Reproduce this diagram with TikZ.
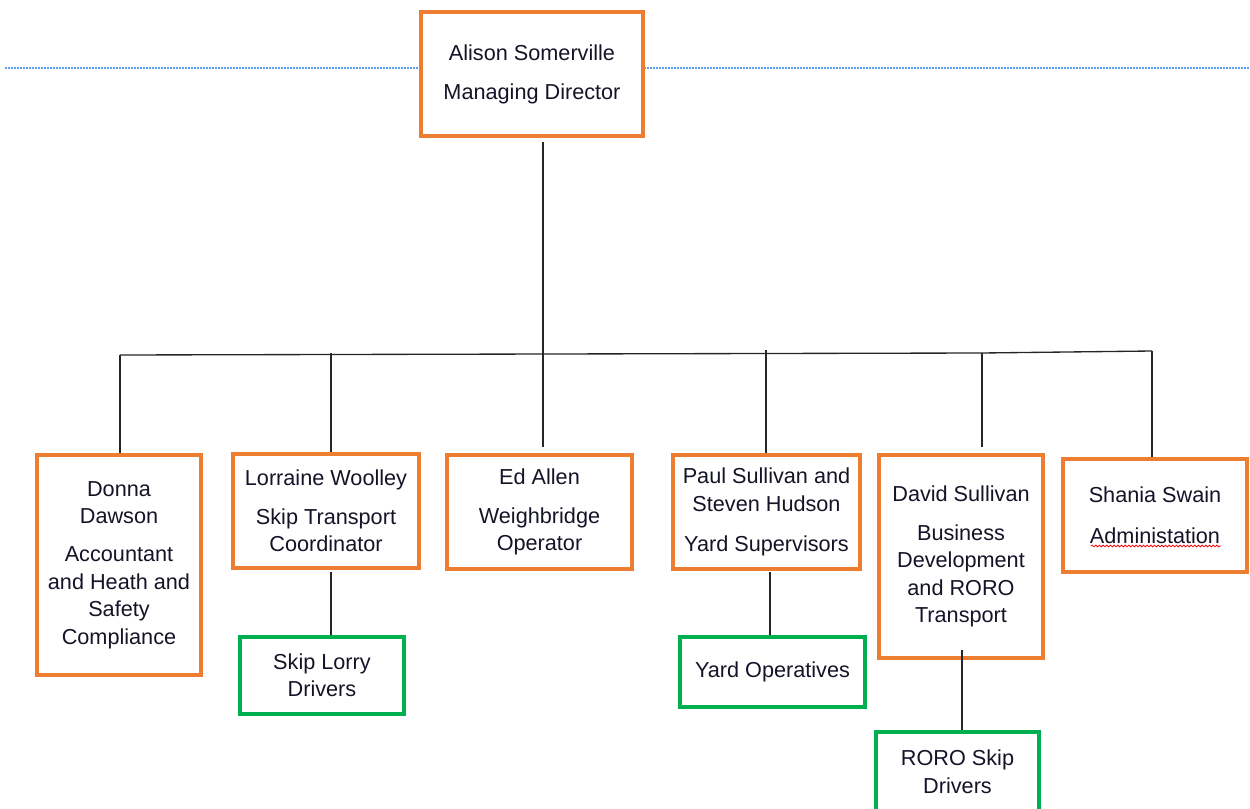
\documentclass[tikz,border=0pt]{standalone}
\usepackage{fontspec}
\setmainfont{Liberation Sans}
\usetikzlibrary{decorations.pathmorphing,calc}
\definecolor{boxorange}{RGB}{237,125,49}
\definecolor{boxgreen}{RGB}{0,176,80}
\definecolor{guideblue}{RGB}{90,160,240}
\definecolor{textdark}{RGB}{20,20,40}
\begin{document}
\begin{tikzpicture}[x=0.6pt,y=-0.6pt,
  boxbase/.style={rectangle, fill=white, align=center, inner sep=0pt,
    text=textdark, font=\fontsize{13}{16.5}\selectfont},
  obox/.style={boxbase, draw=boxorange, line width=2.4pt},
  gbox/.style={boxbase, draw=boxgreen, line width=2.1pt},
  conn/.style={draw=black!85, line width=0.8pt},
  guide/.style={draw=guideblue, line width=0.7pt, dash pattern=on 1.2pt off 0.6pt}
]
\useasboundingbox (0,0) rectangle (1250,809);

% guide line
\coordinate (gl) at (5,68);
\coordinate (gr) at (1250,68);
\draw[guide] (gl) -- (gr);

% boxes
\node[obox, minimum width=133.2pt, minimum height=74.4pt] (top) at (532,74)
  {Alison Somerville\\[6.9pt]Managing Director};
\node[obox, minimum width=98.4pt, minimum height=132pt] (donna) at (119,565)
  {Donna\\Dawson\\[6.3pt]Accountant\\and Heath and\\Safety\\Compliance};
\node[obox, minimum width=111.6pt, minimum height=68.4pt] (lorraine) at (326,510.8)
  {Lorraine Woolley\\[6.9pt]Skip Transport\\Coordinator};
\node[obox, minimum width=111pt, minimum height=68.4pt] (ed) at (539.5,512)
  {Ed Allen\\[6.9pt]Weighbridge\\Operator};
\node[obox, minimum width=112.2pt, minimum height=68.4pt] (paul) at (766.5,512)
  {Paul Sullivan and\\Steven Hudson\\[7.5pt]Yard Supervisors};
\node[obox, minimum width=98.4pt, minimum height=121.8pt] (david) at (961,556.5)
  {David Sullivan\\[6.9pt]Business\\Development\\and RORO\\Transport};
\node[obox, minimum width=110.4pt, minimum height=67.8pt] (shania) at (1155,515.5)
  {Shania Swain\\[8pt]Administation};
\node[gbox, minimum width=98.4pt, minimum height=46.2pt] (skip) at (322,675.5)
  {Skip Lorry\\Drivers};
\node[gbox, minimum width=111pt, minimum height=42pt] (yard) at (772.5,672)
  {Yard Operatives};
\node[gbox, minimum width=97.8pt, minimum height=48pt] (roro) at (957.5,772)
  {RORO Skip\\Drivers};

% spell-check underline
\coordinate (sq1) at (1091,546);
\coordinate (sq2) at (1221,546);
\draw[red, line width=0.45pt, decorate,
  decoration={snake, amplitude=0.55pt, segment length=2.2pt}] (sq1) -- (sq2);

% connectors
\coordinate (stemtop) at (543,142);
\coordinate (bl) at (120,355);
\coordinate (bm) at (982,353);
\coordinate (br) at (1152,351);
\coordinate (d2) at (331,353);
\coordinate (d4) at (766,350);
\draw[conn, shorten >=3.6pt] (stemtop) -- (ed.north -| stemtop);
\draw[conn] (bl) -- (bm) -- (br);
\draw[conn] (bl) -- (donna.north -| bl);
\draw[conn] (d2) -- (lorraine.north -| d2);
\draw[conn] (d4) -- (paul.north -| d4);
\draw[conn, shorten >=3.6pt] (bm) -- (david.north -| bm);
\draw[conn] (br) -- (shania.north -| br);
\coordinate (s1) at (331,572);
\coordinate (s2) at (770,572);
\coordinate (s3) at (962,650);
\draw[conn] (s1) -- (skip.north -| s1);
\draw[conn] (s2) -- (yard.north -| s2);
\draw[conn] (s3) -- (roro.north -| s3);
\end{tikzpicture}
\end{document}
